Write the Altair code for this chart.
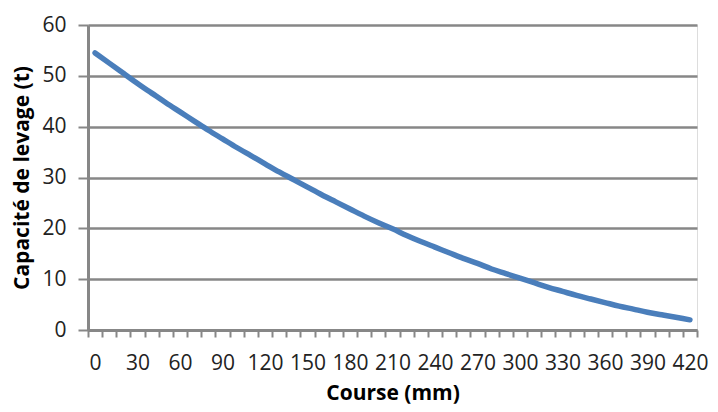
import altair as alt
import pandas as pd

course_mm = [0, 10, 20, 30, 40, 50, 60, 70, 80, 90, 100, 110, 120, 130, 140,
             150, 160, 170, 180, 190, 200, 210, 220, 230, 240, 250, 260, 270,
             280, 290, 300, 310, 320, 330, 340, 350, 360, 370, 380, 390, 400,
             410, 420]
capacite_t = [54.5, 52.5, 50.5, 48.5, 46.6, 44.7, 42.9, 41.1, 39.3, 37.6, 35.9,
              34.3, 32.7, 31.1, 29.6, 28.1, 26.6, 25.2, 23.8, 22.4, 21.1, 19.9,
              18.6, 17.4, 16.3, 15.2, 14.1, 13.1, 12.0, 11.1, 10.2, 9.3, 8.4,
              7.6, 6.8, 6.1, 5.4, 4.7, 4.1, 3.5, 3.0, 2.5, 2.0]
x_label_values = [0, 30, 60, 90, 120, 150, 180, 210, 240, 270, 300, 330, 360, 390, 420]
x_tick_bounds = [-5, 5, 15, 25, 35, 45, 55, 65, 75, 85, 95, 105, 115, 125, 135,
                 145, 155, 165, 175, 185, 195, 205, 215, 225, 235, 245, 255,
                 265, 275, 285, 295, 305, 315, 325, 335, 345, 355, 365, 375,
                 385, 395, 405, 415, 425]
y_values = [0, 10, 20, 30, 40, 50, 60]

df = pd.DataFrame({"course": course_mm, "cap": capacite_t})

FONT = "Open Sans"
GRAY = "#878787"

x_all = sorted(set(x_label_values) | set(x_tick_bounds))
label_set = "[" + ",".join(str(v) for v in x_label_values) + "]"

line = alt.Chart(df).mark_line(
    color="#4A7EBB", strokeWidth=5.5, strokeCap="round", interpolate="monotone"
).encode(
    x=alt.X(
        "course:Q",
        scale=alt.Scale(domain=[-5, 425], nice=False, zero=False),
        axis=alt.Axis(
            values=x_all,
            labelExpr="indexof(" + label_set + ", datum.value) >= 0 ? datum.label : ''",
            labelOverlap=False,
            labelFlush=False,
            tickOpacity={"condition": {"test": "indexof(" + label_set + ", datum.value) < 0", "value": 1}, "value": 0},
            tickSize=7,
            tickWidth=2,
            tickColor=GRAY,
            domainColor=GRAY,
            domainWidth=3,
            grid=False,
            labelFont=FONT,
            labelFontSize=21,
            labelColor="#222222",
            labelPadding=15,
            title="Course (mm)",
            titleFont=FONT,
            titleFontSize=21,
            titleFontWeight="bold",
            titleColor="#000000",
            titlePadding=9,
            format="d",
        ),
    ),
    y=alt.Y(
        "cap:Q",
        scale=alt.Scale(domain=[0, 60], nice=False),
        axis=alt.Axis(
            values=y_values,
            tickSize=10,
            tickWidth=2,
            tickColor=GRAY,
            domainColor=GRAY,
            domainWidth=3,
            grid=True,
            gridColor=GRAY,
            gridWidth=2.5,
            labelFont=FONT,
            labelFontSize=21,
            labelColor="#222222",
            labelPadding=12,
            title="Capacité de levage (t)",
            titleFont=FONT,
            titleFontSize=21,
            titleFontWeight="bold",
            titleColor="#000000",
            titlePadding=9,
        ),
    ),
)

chart = line.properties(
    width=609,
    height=305,
    autosize=alt.AutoSizeParams(type="none"),
    padding={"left": 80, "top": 17, "right": 13, "bottom": 74},
).configure_view(stroke=None).configure(background="white")

chart.save("out.html", embed_options={"renderer": "svg", "actions": False})
